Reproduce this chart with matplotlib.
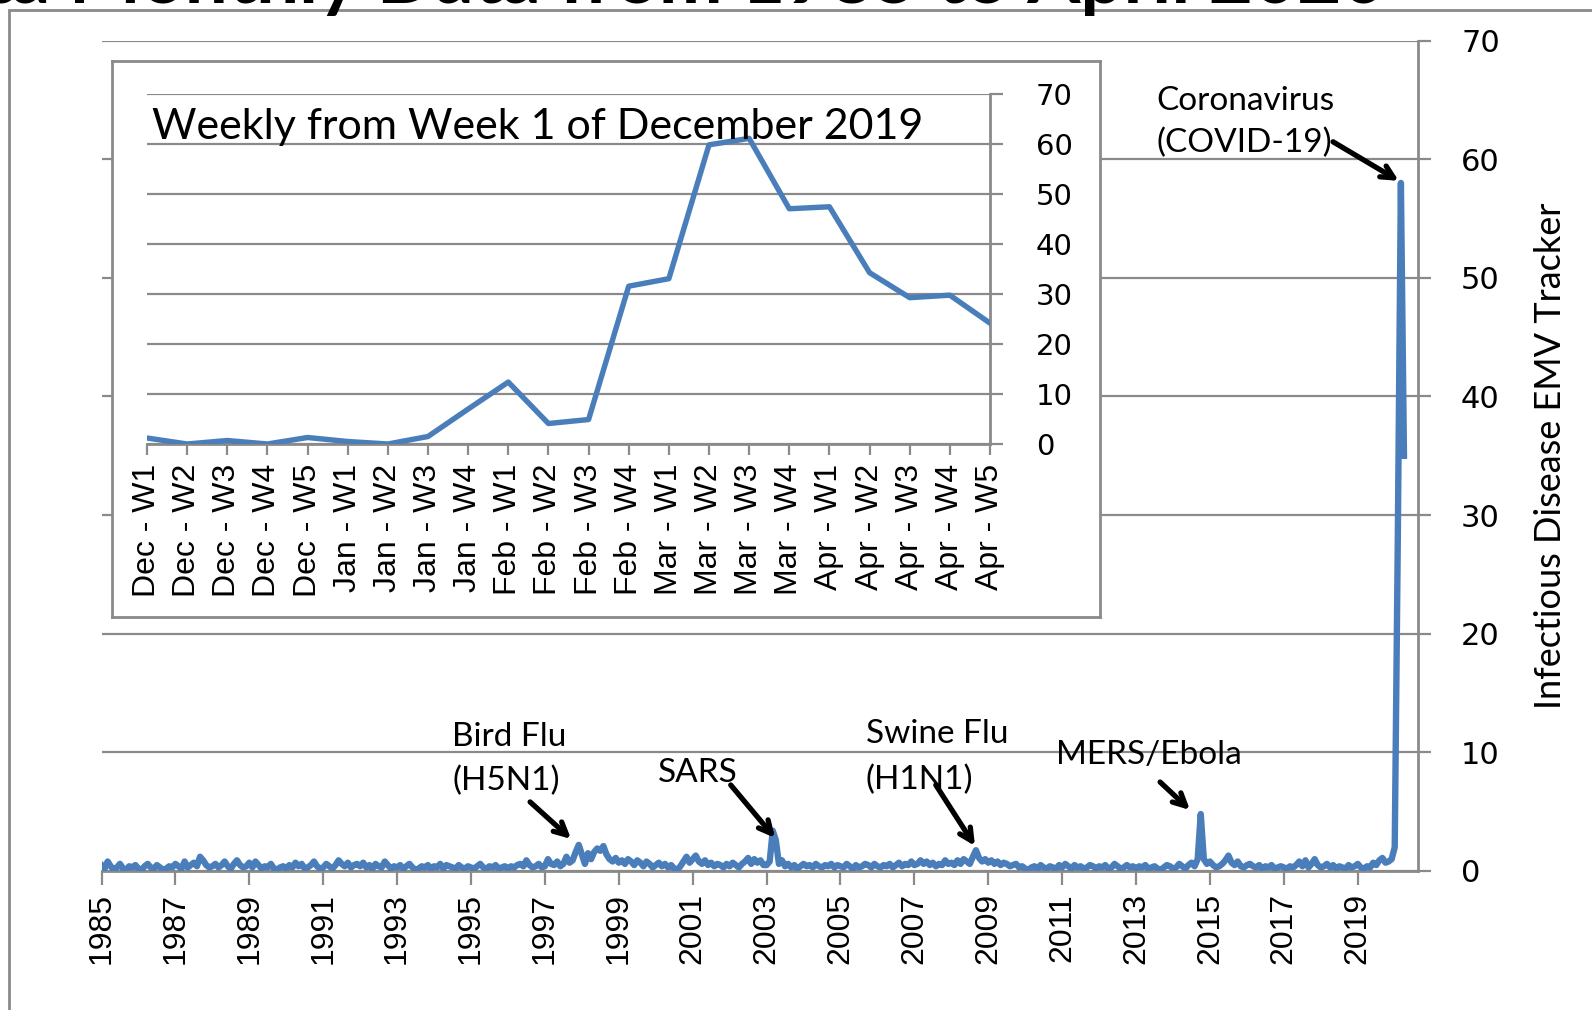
import matplotlib
matplotlib.use('Agg')
import matplotlib.pyplot as plt
import numpy as np
from matplotlib.patches import Rectangle

# monthly Infectious Disease EMV Tracker, Jan 1985 - Apr 2020
months_1985_1989 = [
    0.5, 0.2, 0.8, 0.4, 0.1, 0.3, 0.6, 0.2, 0.1, 0.4, 0.3, 0.5,
    0.2, 0.1, 0.4, 0.6, 0.3, 0.2, 0.5, 0.3, 0.1, 0.2, 0.4, 0.3,
    0.6, 0.4, 0.2, 0.8, 0.3, 0.5, 0.7, 0.4, 1.2, 0.9, 0.5, 0.3,
    0.4, 0.6, 0.3, 0.5, 0.8, 0.4, 0.2, 0.6, 0.9, 0.5, 0.3, 0.4,
    0.7, 0.3, 0.8, 0.5, 0.2, 0.4, 0.3, 0.6, 0.2, 0.1, 0.3, 0.4]
months_1990_1994 = [
    0.2, 0.5, 0.3, 0.7, 0.4, 0.6, 0.2, 0.3, 0.5, 0.8, 0.4, 0.2,
    0.3, 0.6, 0.4, 0.2, 0.5, 0.9, 0.6, 0.4, 0.7, 0.3, 0.5, 0.6,
    0.4, 0.7, 0.3, 0.5, 0.2, 0.6, 0.4, 0.3, 0.8, 0.5, 0.2, 0.4,
    0.3, 0.5, 0.2, 0.4, 0.6, 0.3, 0.1, 0.2, 0.4, 0.3, 0.5, 0.2,
    0.4, 0.3, 0.6, 0.2, 0.5, 0.4, 0.3, 0.2, 0.5, 0.3, 0.2, 0.4]
months_1995_1999 = [
    0.3, 0.2, 0.4, 0.6, 0.3, 0.2, 0.4, 0.3, 0.5, 0.2, 0.3, 0.4,
    0.2, 0.4, 0.3, 0.5, 0.6, 0.4, 0.9, 0.5, 0.3, 0.4, 0.6, 0.3,
    0.4, 1.0, 0.6, 0.5, 0.8, 0.4, 0.6, 1.2, 0.7, 0.9, 1.6, 2.2,
    1.4, 0.6, 1.5, 1.0, 1.6, 1.9, 1.7, 2.1, 1.4, 1.0, 0.8, 1.1,
    0.7, 0.9, 0.6, 1.0, 0.8, 0.5, 0.9, 0.7, 0.4, 0.8, 0.6, 0.3]
months_2000_2004 = [
    0.5, 0.7, 0.4, 0.6, 0.3, 0.5, 0.2, 0.1, 0.4, 0.8, 1.2, 0.7,
    1.0, 1.3, 0.8, 0.6, 0.9, 0.5, 0.7, 0.4, 0.6, 0.5, 0.3, 0.6,
    0.4, 0.7, 0.5, 0.3, 0.6, 0.8, 1.1, 0.6, 1.0, 0.7, 0.9, 0.5,
    0.5, 0.8, 3.4, 2.6, 0.6, 0.9, 0.4, 0.6, 0.3, 0.5, 0.2, 0.4,
    0.6, 0.4, 0.5, 0.3, 0.6, 0.4, 0.3, 0.5, 0.4, 0.6, 0.3, 0.5]
months_2005_2009 = [
    0.4, 0.3, 0.6, 0.4, 0.2, 0.5, 0.3, 0.4, 0.6, 0.5, 0.3, 0.6,
    0.4, 0.3, 0.5, 0.4, 0.6, 0.3, 0.5, 0.7, 0.4, 0.6, 0.5, 0.8,
    0.5, 0.6, 0.9, 0.6, 0.8, 0.5, 0.7, 0.4, 0.6, 0.5, 0.9, 0.6,
    0.7, 0.5, 0.9, 0.6, 1.0, 0.8, 0.6, 1.2, 1.75, 1.1, 0.8, 1.0,
    0.7, 0.9, 0.6, 0.8, 0.5, 0.7, 0.6, 0.4, 0.5, 0.6, 0.3, 0.4]
months_2010_2014 = [
    0.2, 0.1, 0.3, 0.4, 0.2, 0.5, 0.3, 0.2, 0.4, 0.3, 0.2, 0.5,
    0.3, 0.6, 0.4, 0.2, 0.5, 0.3, 0.4, 0.2, 0.3, 0.5, 0.4, 0.2,
    0.4, 0.3, 0.5, 0.2, 0.3, 0.6, 0.4, 0.2, 0.3, 0.5, 0.3, 0.4,
    0.2, 0.4, 0.3, 0.5, 0.2, 0.3, 0.4, 0.2, 0.1, 0.3, 0.5, 0.4,
    0.2, 0.3, 0.6, 0.4, 0.2, 0.5, 0.7, 0.4, 1.0, 4.8, 1.0, 0.6]
months_2015_2020 = [
    0.8, 0.5, 0.3, 0.4, 0.6, 0.9, 1.3, 0.7, 0.5, 0.8, 0.4, 0.3,
    0.5, 0.6, 0.4, 0.3, 0.5, 0.2, 0.4, 0.3, 0.5, 0.2, 0.3, 0.4,
    0.3, 0.2, 0.4, 0.3, 0.5, 0.8, 0.4, 0.9, 0.3, 0.6, 1.0, 0.5,
    0.3, 0.4, 0.6, 0.3, 0.5, 0.2, 0.4, 0.3, 0.2, 0.5, 0.3, 0.4,
    0.6, 0.3, 0.2, 0.4, 0.3, 0.7, 0.5, 0.9, 1.1, 0.7, 0.8, 1.0,
    2.0, 28.0, 58.0, 35.0]

year_ticks = list(range(1985, 2020, 2))

# weekly inset, from week 1 of December 2019
week_labels = ["Dec - W1", "Dec - W2", "Dec - W3", "Dec - W4", "Dec - W5",
               "Jan - W1", "Jan - W2", "Jan - W3", "Jan - W4",
               "Feb - W1", "Feb - W2", "Feb - W3", "Feb - W4",
               "Mar - W1", "Mar - W2", "Mar - W3", "Mar - W4",
               "Apr - W1", "Apr - W2", "Apr - W3", "Apr - W4", "Apr - W5"]
weekly = [1.2, 0.0, 0.7, 0.0, 1.3, 0.5, 0.0, 1.5, 7.0, 12.4, 4.1, 4.9,
          31.6, 33.1, 59.9, 61.2, 47.1, 47.5, 34.3, 29.3, 29.8, 24.2]

monthly = (months_1985_1989 + months_1990_1994 + months_1995_1999 +
           months_2000_2004 + months_2005_2009 + months_2010_2014 +
           months_2015_2020)
t = 1985 + np.arange(len(monthly)) / 12.0

W, H = 1592, 1010
blue = '#4a7ebb'
grey = '#8a8a8a'
num_font = 'DejaVu Sans'
rot_font = 'Liberation Sans'
txt_font = 'Lato'

fig = plt.figure(figsize=(W / 100, H / 100), dpi=100)

# outer chart-area border (cut by the image edges)
fig.patches.append(Rectangle((9 / W, -0.2), 1.2, 1.2 - 10 / H, transform=fig.transFigure,
                             fill=False, edgecolor=grey, lw=2, zorder=0))

# title, mostly cut off by the top edge as in the source image
fig.text(1386 / W, 1 - 3 / H, "Infectious Disease EMV Tracker Data Monthly Data from 1985 to April 2020",
         ha='right', va='baseline', fontsize=55, fontweight='bold', family=txt_font)

# ---- main chart ----
ax = fig.add_axes([101.5 / W, 1 - 871 / H, (1418 - 101.5) / W, (871 - 40.6) / H])
ax.plot(t, monthly, color=blue, lw=4.6, solid_joinstyle='round', zorder=3)
ax.set_xlim(1985, 2020.63)
ax.set_ylim(0, 70)
ax.set_yticks(range(0, 71, 10))
ax.set_xticks(year_ticks)
ax.set_xticklabels([str(y) for y in year_ticks], rotation=90, fontsize=23, family=rot_font)
ax.yaxis.tick_right()
ax.yaxis.set_label_position('right')
ax.grid(axis='y', color=grey, lw=1.6)
ax.set_axisbelow(True)
for s in ['left', 'top']:
    ax.spines[s].set_visible(False)
for s in ['right', 'bottom']:
    ax.spines[s].set_color(grey)
    ax.spines[s].set_linewidth(2)
ax.tick_params(axis='x', length=10, width=1.6, color=grey, pad=6)
ax.tick_params(axis='y', length=9, width=1.6, color=grey, pad=22, labelsize=22)
for lb in ax.get_yticklabels():
    lb.set_family(num_font)
ax.set_ylabel("Infectious Disease EMV Tracker", fontsize=26, family=txt_font, rotation=90)
ax.yaxis.set_label_coords(1.088, 0.5)

# event annotations
arrow = dict(arrowstyle='->,head_length=0.9,head_width=0.45', lw=3.8, color='black', shrinkA=0, shrinkB=0)
tk = dict(fontsize=24, family=txt_font, va='baseline', ha='left')
ax.text(1994.49, 10.54, "Bird Flu", **tk)
ax.text(1994.49, 6.83, "(H5N1)", **tk)
ax.annotate("", xy=(1997.71, 2.7), xytext=(1996.6, 5.82), arrowprops=arrow)
ax.text(2000.06, 7.5, "SARS", **tk)
ax.annotate("", xy=(2003.23, 2.78), xytext=(2002.03, 7.25), arrowprops=arrow)
ax.text(2005.69, 10.79, "Swine Flu", **tk)
ax.text(2005.69, 6.91, "(H1N1)", **tk)
ax.annotate("", xy=(2008.64, 2.11), xytext=(2007.58, 7.25), arrowprops=arrow)
ax.text(2010.83, 9.02, "MERS/Ebola", **tk)
ax.annotate("", xy=(2014.46, 5.14), xytext=(2013.65, 7.5), arrowprops=arrow)
ax.text(2013.56, 64.17, "Coronavirus", **tk)
ax.text(2013.56, 60.62, "(COVID-19)", **tk)
ax.annotate("", xy=(2020.11, 58.18), xytext=(2018.33, 61.47), arrowprops=arrow)

# ---- inset (weekly) ----
box = fig.add_axes([112 / W, 1 - 617 / H, (1100 - 112) / W, (617 - 61) / H])
box.set_xticks([])
box.set_yticks([])
for s in box.spines.values():
    s.set_color(grey)
    s.set_linewidth(2)
box.set_facecolor('white')

ins = fig.add_axes([147 / W, 1 - 444 / H, (990 - 147) / W, (444 - 94.4) / H])
ins.patch.set_alpha(0)
xw = np.arange(len(weekly))
ins.plot(xw, weekly, color=blue, lw=3.9, solid_joinstyle='round', zorder=3)
ins.set_xlim(0, len(weekly) - 1)
ins.set_ylim(0, 70)
ins.set_yticks(range(0, 71, 10))
ins.set_xticks(xw)
ins.set_xticklabels(week_labels, rotation=90, fontsize=23, family=rot_font)
ins.yaxis.tick_right()
ins.grid(axis='y', color=grey, lw=1.6)
ins.set_axisbelow(True)
for s in ['left', 'top']:
    ins.spines[s].set_visible(False)
for s in ['right', 'bottom']:
    ins.spines[s].set_color(grey)
    ins.spines[s].set_linewidth(2)
ins.tick_params(axis='x', length=8, width=1.6, color=grey, pad=6)
ins.tick_params(axis='y', length=9, width=1.6, color=grey, pad=24, labelsize=21)
for lb in ins.get_yticklabels():
    lb.set_family(num_font)
ins.text((152 - 147) / (990 - 147), (444 - 139) / (444 - 94.4), "Weekly from Week 1 of December 2019",
         transform=ins.transAxes, fontsize=31, family=txt_font, va='baseline', ha='left')

fig.savefig('out.png', dpi=100)
